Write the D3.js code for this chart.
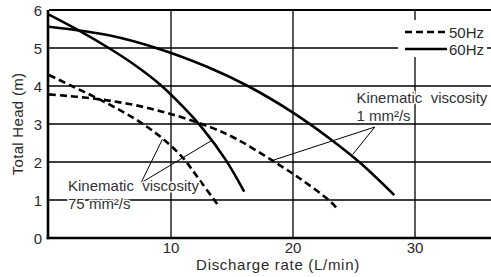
<!DOCTYPE html>
<meta charset="utf-8">
<style>
body { margin: 0; background: #fff; }
svg { display: block; background: #fff; font-family: "Liberation Sans", Arial, sans-serif; }
.grid line { stroke: #000; stroke-width: 1.3; }
.curve { fill: none; stroke: #000; stroke-width: 2.6; }
.curve.hz50 { stroke-dasharray: 7,4; }
.tick-label { fill: #2a2a2a; font-size: 15px; }
.axis-title { fill: #2a2a2a; font-size: 15px; letter-spacing: 0.7px; }
.note { fill: #333; font-size: 15px; stroke: #fff; stroke-width: 3; paint-order: stroke; stroke-linejoin: round; }
.leader { stroke: #000; stroke-width: 1; }
</style>
<body>
<svg id="chart"></svg>
<script src="https://d3js.org/d3.v7.min.js"></script>
<script>

// discharge rate (L/min), total head (m)
var hz60_visc1 = [[0,5.56],[5,5.33],[9.1,4.97],[13,4.5],[16.3,4.0],[20,3.3],[23,2.62],[25.5,1.98],[28.3,1.13]];
var hz60_visc75 = [[0,5.88],[2.4,5.47],[5,4.98],[7,4.56],[9.1,4.04],[11,3.45],[12.6,2.88],[14.5,2.05],[16,1.22]];
var hz50_visc1 = [[0,3.78],[3.9,3.66],[7,3.5],[9.9,3.27],[13.2,2.92],[15.4,2.6],[18.1,2.08],[20.5,1.58],[23,0.98],[23.6,0.78]];
var hz50_visc75 = [[0,4.29],[2,3.98],[4,3.67],[6,3.33],[7.7,3.0],[9.3,2.62],[11,2.1],[12.4,1.5],[14,0.8]];

var xTicks = [10, 20, 30];
var yTicks = [0, 1, 2, 3, 4, 5, 6];
var legendLabels = ["50Hz", "60Hz"];

var width = 491, height = 277;

var x = d3.scaleLinear().domain([0, 37]).range([49, 49 + 37 * 12.2]);
var y = d3.scaleLinear().domain([0, 6]).range([238, 10]);

var svg = d3.select("#chart").attr("width", width).attr("height", height);

// grid
var grid = svg.append("g").attr("class", "grid");
grid.selectAll(".h").data(yTicks.filter(function(d){ return d > 0; }))
  .enter().append("line")
    .attr("x1", x(0)).attr("x2", width)
    .attr("y1", function(d){ return y(d); }).attr("y2", function(d){ return y(d); })
    .style("stroke-width", function(d){ return d === 6 ? 1.8 : 1.3; });
grid.selectAll(".v").data(xTicks)
  .enter().append("line")
    .attr("x1", function(d){ return x(d); }).attr("x2", function(d){ return x(d); })
    .attr("y1", y(6)).attr("y2", y(0));

// axes lines
svg.append("line").attr("x1", x(0) - 1).attr("x2", x(0) - 1).attr("y1", y(6)).attr("y2", y(0) + 1.2)
  .attr("stroke", "#000").attr("stroke-width", 2.6);
svg.append("line").attr("x1", x(0) - 2.3).attr("x2", width).attr("y1", y(0)).attr("y2", y(0))
  .attr("stroke", "#000").attr("stroke-width", 2.6);

// tick labels
svg.selectAll(".ylab").data(yTicks).enter().append("text")
  .attr("class", "tick-label")
  .attr("x", 42).attr("y", function(d){ return y(d) + 5.5; })
  .attr("text-anchor", "end")
  .text(function(d){ return d; });
svg.selectAll(".xlab").data(xTicks).enter().append("text")
  .attr("class", "tick-label")
  .attr("x", function(d){ return x(d); }).attr("y", 253)
  .attr("text-anchor", "middle")
  .text(function(d){ return d; });

svg.append("text").attr("class", "axis-title")
  .attr("x", 278).attr("y", 270)
  .attr("text-anchor", "middle")
  .text("Discharge rate (L/min)");
svg.append("text").attr("class", "axis-title")
  .attr("transform", "translate(23," + ((y(0) + y(6)) / 2) + ") rotate(-90)")
  .attr("text-anchor", "middle")
  .style("letter-spacing", "0.3px")
  .text("Total Head (m)");

// curves
var line = d3.line()
  .x(function(d){ return x(d[0]); })
  .y(function(d){ return y(d[1]); })
  .curve(d3.curveCatmullRom.alpha(0.5));

var series = [
  {cls: "hz60", data: hz60_visc1},
  {cls: "hz60", data: hz60_visc75},
  {cls: "hz50", data: hz50_visc1},
  {cls: "hz50", data: hz50_visc75}
];
svg.selectAll(".curve").data(series).enter().append("path")
  .attr("class", function(d){ return "curve " + d.cls; })
  .attr("d", function(d){ return line(d.data); });

// annotations: apex point + two targets on curves, text
var notes = [
  {apex: [7.54, 1.45], targets: [[9.3, 2.6], [13.3, 2.56]], at: [1.56, 1.24], lines: ["Kinematic  viscosity", "75 mm²/s"]},
  {apex: [26.7, 2.92], targets: [[18.4, 2.05], [24.9, 2.2]], at: [25.2, 3.54], lines: ["Kinematic  viscosity", "1 mm²/s"]}
];

notes.forEach(function(n){
  n.targets.forEach(function(t){
    svg.append("line").attr("class", "leader")
      .attr("x1", x(n.apex[0])).attr("y1", y(n.apex[1]))
      .attr("x2", x(t[0])).attr("y2", y(t[1]));
  });
});
notes.forEach(function(n){
  var t = svg.append("text").attr("class", "note")
    .attr("x", x(n.at[0])).attr("y", y(n.at[1]))
    .attr("xml:space", "preserve");
  n.lines.forEach(function(s, i){
    t.append("tspan").attr("x", x(n.at[0])).attr("dy", i ? 18 : 0).text(s);
  });
});

// legend
var lg = svg.append("g").attr("transform", "translate(398,20)");
lg.append("rect").attr("width", 89).attr("height", 37).attr("fill", "#fff");
legendLabels.forEach(function(l, i){
  var yy = 12 + i * 17;
  lg.append("line").attr("class", "curve " + (i === 0 ? "hz50" : "hz60"))
    .attr("x1", 7).attr("x2", 49).attr("y1", yy).attr("y2", yy)
    .style("stroke-width", 2.4);
  lg.append("text").attr("class", "tick-label")
    .attr("x", 51).attr("y", yy + 5.5)
    .text(l);
});

</script>
</body>
